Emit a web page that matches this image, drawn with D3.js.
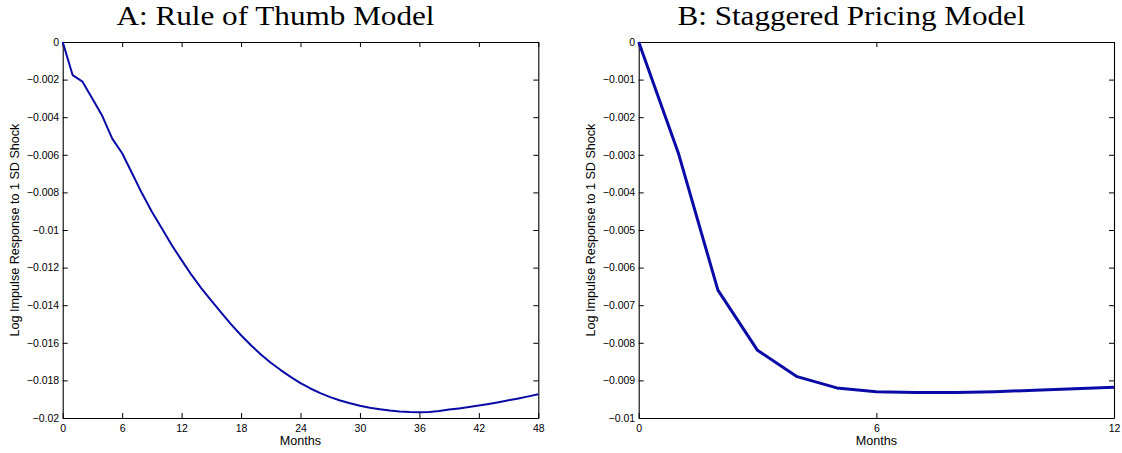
<!DOCTYPE html>
<html>
<head>
<meta charset="utf-8">
<script src="https://cdn.jsdelivr.net/npm/d3@7"></script>
<style>
  html, body { margin: 0; padding: 0; background: #fff; }
  svg { display: block; }
  .tick text { font-family: "Liberation Sans", Arial, Helvetica, sans-serif; font-size: 10.5px; fill: #000; }
</style>
</head>
<body>
<svg id="chart" width="1122" height="453"></svg>
<script>
// ---- Data ----
const monthsA = d3.range(0, 49);
const responseA = [
  0, -0.00176, -0.00211, -0.00302, -0.00394, -0.00514, -0.00592, -0.00698, -0.00805, -0.00903,
  -0.00991, -0.0108, -0.0116, -0.01239, -0.0131, -0.01376, -0.0144, -0.01502, -0.0156, -0.01613,
  -0.01662, -0.01706, -0.01745, -0.01781, -0.01814, -0.01843, -0.01868, -0.01889, -0.01907, -0.01922,
  -0.01935, -0.01945, -0.01953, -0.0196, -0.01965, -0.01968, -0.01969, -0.01968, -0.01963, -0.01955,
  -0.01949, -0.01942, -0.01934, -0.01925, -0.01916, -0.01906, -0.01896, -0.01885, -0.01874
];
const monthsB = d3.range(0, 13);
const responseB = [
  0, -0.00295, -0.0066, -0.0082, -0.0089, -0.0092, -0.0093, -0.00932, -0.00932, -0.0093,
  -0.00926, -0.00922, -0.00918
];
const xTicksA = [0, 6, 12, 18, 24, 30, 36, 42, 48];
const yTicksA = [0, -0.002, -0.004, -0.006, -0.008, -0.01, -0.012, -0.014, -0.016, -0.018, -0.02];
const xTicksB = [0, 6, 12];
const yTicksB = [0, -0.001, -0.002, -0.003, -0.004, -0.005, -0.006, -0.007, -0.008, -0.009, -0.01];
const titles = ["A: Rule of Thumb Model", "B: Staggered Pricing Model"];
const xLabel = "Months";
const yLabel = "Log Impulse Response to 1 SD Shock";

const svg = d3.select("#chart");
const fmt = d3.format("~g");
const lineColor = "#0a0aa6";

function panel(opt) {
  const x = d3.scaleLinear().domain(opt.xDomain).range([opt.x0, opt.x1]);
  const y = d3.scaleLinear().domain(opt.yDomain).range([opt.y1, opt.y0]);
  const g = svg.append("g");

  // title
  g.append("text")
    .attr("x", opt.titleX).attr("y", 24.5)
    .attr("text-anchor", "middle")
    .style("font-family", '"Liberation Serif", "Times New Roman", serif')
    .style("font-size", "27px")
    .attr("textLength", opt.titleW)
    .attr("lengthAdjust", "spacingAndGlyphs")
    .text(opt.title);

  const axB = g.append("g").attr("transform", `translate(0,${opt.y1})`)
    .call(d3.axisBottom(x).tickValues(opt.xTicks).tickFormat(fmt).tickSizeInner(-5).tickSizeOuter(0).tickPadding(6.5));
  const axT = g.append("g").attr("transform", `translate(0,${opt.y0})`)
    .call(d3.axisTop(x).tickValues(opt.xTicks).tickFormat("").tickSizeInner(-5).tickSizeOuter(0));
  const axL = g.append("g").attr("transform", `translate(${opt.x0},0)`)
    .call(d3.axisLeft(y).tickValues(opt.yTicks).tickFormat(fmt).tickSizeInner(-5).tickSizeOuter(0).tickPadding(3.5));
  const axR = g.append("g").attr("transform", `translate(${opt.x1},0)`)
    .call(d3.axisRight(y).tickValues(opt.yTicks).tickFormat("").tickSizeInner(-5).tickSizeOuter(0));
  [axB, axT, axL, axR].forEach(a => {
    a.select(".domain").attr("stroke", "#000").attr("stroke-width", 1.1);
    a.selectAll(".tick line").attr("stroke", "#000").attr("stroke-width", 1);
  });

  // line
  const data = opt.xs.map((m, i) => [m, opt.ys[i]]);
  g.append("path")
    .datum(data)
    .attr("fill", "none")
    .attr("stroke", lineColor)
    .attr("stroke-width", opt.lw)
    .attr("stroke-linejoin", "round")
    .attr("d", d3.line().x(d => x(d[0])).y(d => y(d[1])));

  // axis labels
  g.append("text")
    .attr("x", (opt.x0 + opt.x1) / 2).attr("y", 445)
    .attr("text-anchor", "middle")
    .style("font-family", '"Liberation Sans", Arial, sans-serif')
    .style("font-size", "12.6px")
    .text(xLabel);
  g.append("text")
    .attr("transform", `translate(${opt.yLabelX},${(opt.y0 + opt.y1) / 2}) rotate(-90)`)
    .attr("text-anchor", "middle")
    .style("font-family", '"Liberation Sans", Arial, sans-serif')
    .style("font-size", "12.6px")
    .text(yLabel);
}

panel({
  title: titles[0], titleX: 275.5, titleW: 318,
  x0: 62.7, x1: 538.3, y0: 42, y1: 418,
  xDomain: [0, 48], yDomain: [-0.02, 0],
  xTicks: xTicksA, yTicks: yTicksA,
  xs: monthsA, ys: responseA, lw: 2,
  yLabelX: 18.5
});
panel({
  title: titles[1], titleX: 851.5, titleW: 348,
  x0: 638.7, x1: 1114, y0: 42, y1: 418,
  xDomain: [0, 12], yDomain: [-0.01, 0],
  xTicks: xTicksB, yTicks: yTicksB,
  xs: monthsB, ys: responseB, lw: 3,
  yLabelX: 595
});
</script>
</body>
</html>
